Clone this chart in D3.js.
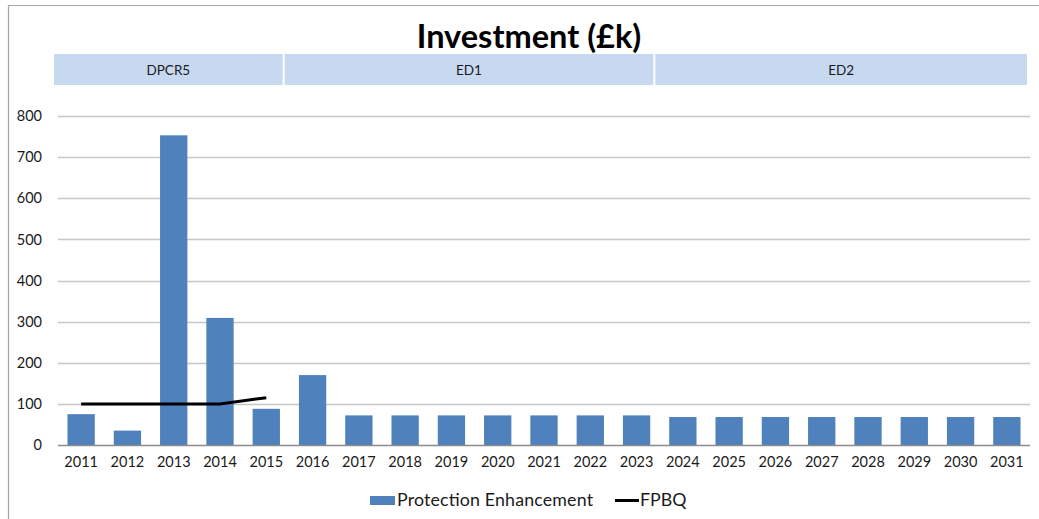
<!DOCTYPE html>
<html>
<head>
<meta charset="utf-8">
<script src="https://cdn.jsdelivr.net/npm/d3@7"></script>
<style>
  html, body { margin: 0; padding: 0; background: #fff; }
  svg { display: block; font-family: Lato, "Open Sans", sans-serif; }
</style>
</head>
<body>
<svg id="chart" width="1039" height="519"></svg>
<script>
const years = ["2011","2012","2013","2014","2015","2016","2017","2018","2019","2020","2021","2022","2023","2024","2025","2026","2027","2028","2029","2030","2031"];
const protectionEnhancement = [75, 35, 753, 309, 88, 170, 72, 72, 72, 72, 72, 72, 72, 68, 68, 68, 68, 68, 68, 68, 68];
const fpbqYears = ["2011","2012","2013","2014","2015"];
const fpbqValues = [100, 100, 100, 100, 115];
const periods = [
  { name: "DPCR5", from: "2011", to: "2015" },
  { name: "ED1", from: "2016", to: "2023" },
  { name: "ED2", from: "2024", to: "2031" }
];
const yTicks = [0, 100, 200, 300, 400, 500, 600, 700, 800];
const titleText = "Investment (£k)";
const seriesNames = ["Protection Enhancement", "FPBQ"];

const svg = d3.select("#chart");
const W = 1039, H = 519;

// outer frame (left and top edges visible)
svg.append("line").attr("x1", 8.5).attr("x2", 8.5).attr("y1", 5).attr("y2", H).attr("stroke", "#a6a6a6").attr("stroke-width", 1.2);
svg.append("line").attr("x1", 8).attr("x2", W).attr("y1", 5.5).attr("y2", 5.5).attr("stroke", "#a6a6a6").attr("stroke-width", 1.2);

// title
svg.append("text")
  .attr("x", 529).attr("y", 47.5)
  .attr("text-anchor", "middle")
  .attr("font-size", 32.5).attr("font-weight", 700)
  .attr("fill", "#000")
  .text(titleText);

// scales
const x = d3.scaleBand().domain(years).range([58, 1030]).paddingInner(0.41).paddingOuter(0.205);
const y = d3.scaleLinear().domain([0, 800]).range([445, 116]);
const xp = d3.scaleBand().domain(years).range([54, 1027]).padding(0);

// period bands
const pg = svg.append("g");
periods.forEach(p => {
  const x0 = xp(p.from) + (p.from === years[0] ? 0 : -1);
  const x1 = xp(p.to) + xp.bandwidth() - (p.to === years[years.length-1] ? 0 : 3);
  pg.append("rect").attr("x", x0).attr("y", 54).attr("width", x1 - x0).attr("height", 31).attr("fill", "#c6d9f1");
  pg.append("text").attr("x", (x0 + x1) / 2).attr("y", 74.5).attr("text-anchor", "middle")
    .attr("font-size", 13.5).attr("fill", "#1a1a1a").text(p.name);
});

// gridlines
svg.append("g").selectAll("line").data(yTicks.filter(d => d > 0)).join("line")
  .attr("x1", 58).attr("x2", 1030)
  .attr("y1", d => Math.round(y(d)) + 0.5).attr("y2", d => Math.round(y(d)) + 0.5)
  .attr("stroke", "#c6c6c6").attr("stroke-width", 1.5);

// y axis labels
const yAxis = d3.axisLeft(y).tickValues(yTicks).tickSize(0).tickPadding(0);
const yg = svg.append("g").attr("transform", "translate(42,0)").call(yAxis);
yg.select(".domain").remove();
yg.selectAll("text").attr("font-size", 14.5).attr("fill", "#1a1a1a").attr("font-family", "Lato, sans-serif");

// bars
svg.append("g").selectAll("rect").data(years).join("rect")
  .attr("x", d => x(d))
  .attr("width", x.bandwidth())
  .attr("y", (d, i) => y(protectionEnhancement[i]))
  .attr("height", (d, i) => y(0) - y(protectionEnhancement[i]))
  .attr("fill", "#4f81bd");

// x axis
const xc = d3.scaleBand().domain(years).range([58, 1030]);
const xAxis = d3.axisBottom(xc).tickSize(0).tickPadding(12);
const xg = svg.append("g").attr("transform", "translate(0,445)").call(xAxis);
xg.select(".domain").attr("stroke", "#8c8c8c").attr("stroke-width", 1.3).attr("d", "M58,0.5H1030");
xg.selectAll("text").attr("font-size", 14.5).attr("fill", "#1a1a1a").attr("font-family", "Lato, sans-serif");

// FPBQ line
const line = d3.line().x(d => xc(d[0]) + xc.bandwidth() / 2).y(d => y(d[1]));
svg.append("path").datum(fpbqYears.map((d, i) => [d, fpbqValues[i]]))
  .attr("d", line).attr("fill", "none").attr("stroke", "#000").attr("stroke-width", 3);

// legend
const lg = svg.append("g");
lg.append("rect").attr("x", 370).attr("y", 496).attr("width", 25).attr("height", 9).attr("fill", "#4f81bd");
lg.append("text").attr("x", 397).attr("y", 506).attr("font-size", 17.8).attr("fill", "#1a1a1a").attr("textLength", 196).text(seriesNames[0]);
lg.append("line").attr("x1", 615).attr("x2", 639).attr("y1", 500.5).attr("y2", 500.5).attr("stroke", "#000").attr("stroke-width", 3);
lg.append("text").attr("x", 640).attr("y", 506).attr("font-size", 17.8).attr("fill", "#1a1a1a").text(seriesNames[1]);
</script>
</body>
</html>
